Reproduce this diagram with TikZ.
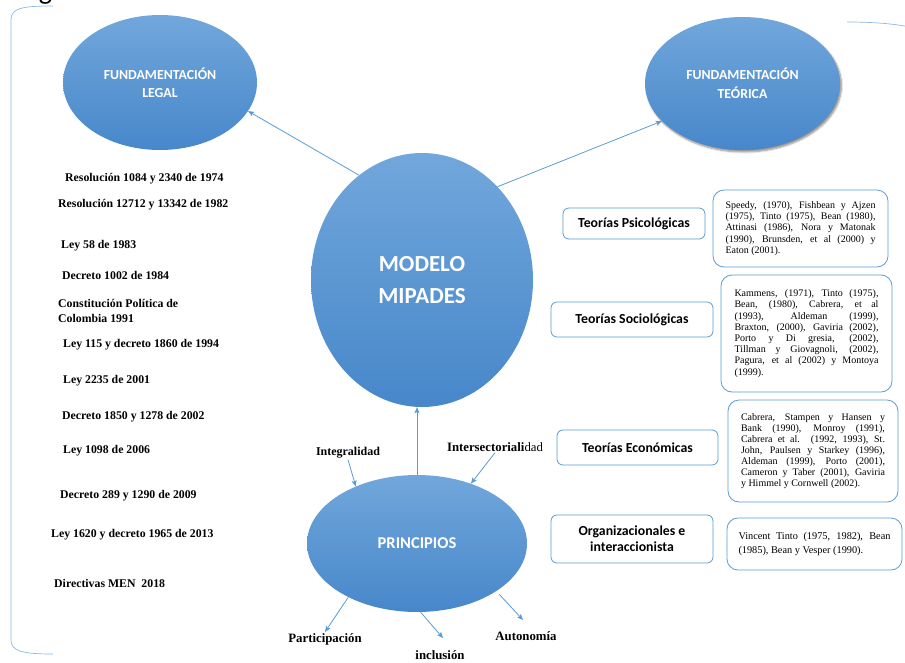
\documentclass[tikz,border=0pt]{standalone}
\usepackage{fontspec}
\setmainfont{Liberation Serif}
\newfontfamily\calibri{Carlito}
\usetikzlibrary{arrows.meta,shapes.geometric,shadows.blur}

\definecolor{accent}{HTML}{5B9BD5}
\definecolor{bubbletop}{HTML}{71A7DB}
\definecolor{bubblebot}{HTML}{4787CA}
\definecolor{bracketblue}{HTML}{8DB8E2}

\setlength{\parindent}{0pt}
\tolerance=10000

\begin{document}
\begin{tikzpicture}[x=1pt,y=-1pt,
  bubble/.style={ellipse, inner sep=0pt, draw=none,
    top color=bubbletop, bottom color=bubblebot,
    text=white, font=\calibri\bfseries, align=center},
  link/.style={draw=accent, line width=0.8pt,
    -{Stealth[length=6pt,width=5pt,inset=1.2pt]}},
  norma/.style={anchor=west, inner sep=0pt, align=left,
    font=\bfseries\fontsize{11.8}{15}\selectfont},
  tagbox/.style={draw=accent, line width=0.8pt, rounded corners=6pt,
    fill=white, inner sep=0pt, align=center,
    font=\calibri\bfseries\fontsize{13.8}{16}\selectfont},
  refbox/.style={draw=accent, line width=0.8pt, rounded corners=11pt,
    fill=white, inner sep=0pt, align=justify},
  principle/.style={inner sep=1pt, font=\bfseries\fontsize{12.8}{14}\selectfont},
  bracket/.style={draw=bracketblue, line width=0.7pt}
]
\useasboundingbox (0,0) rectangle (905,662);

% caption letter cut by the page edge
\node[anchor=base, inner sep=0pt, font=\calibri\fontsize{28}{30}\selectfont] (capg) at (45.5,-0.5) {g};

% side brackets
\draw[bracket] (53,6) .. controls (22,6) and (11,8) .. (11,20) -- (11,640)
  .. controls (11,651) and (22,654) .. (53,654);
\draw[bracket] (847,22) .. controls (875,22) and (895,24) .. (910,27);

% main ellipses
\node[bubble, minimum width=194pt, minimum height=135pt,
  font=\calibri\bfseries\fontsize{13.8}{17.5}\selectfont] (legal) at (160,82.5)
  {FUNDAMENTACIÓN\\LEGAL};
\node[bubble, minimum width=195pt, minimum height=133pt,
  blur shadow={shadow xshift=1.5pt, shadow yshift=-2pt, shadow blur steps=6, shadow opacity=45},
  font=\calibri\bfseries\fontsize{13.8}{19}\selectfont] (teorica) at (742.5,83.5)
  {FUNDAMENTACIÓN\\TEÓRICA};
\node[bubble, minimum width=222pt, minimum height=254pt,
  font=\calibri\bfseries\fontsize{23}{32}\selectfont] (modelo) at (422,280)
  {MODELO\\MIPADES};
\node[bubble, minimum width=220pt, minimum height=137pt,
  font=\calibri\bfseries\fontsize{16.5}{19}\selectfont] (principios) at (417,543.5)
  {PRINCIPIOS};

% links from the model
\draw[link] (modelo.121) -- (legal.-18);
\draw[link] (modelo.51) -- (teorica.205);
\draw[link] (principios.north) -- (principios.north |- modelo.south);

% legal framework
\node[norma] (n1) at (65,179) {Resolución 1084 y 2340 de 1974};
\node[norma] (n2) at (58,205) {Resolución 12712 y 13342 de 1982};
\node[norma] (n3) at (61,246) {Ley 58 de 1983};
\node[norma] (n4) at (62,275) {Decreto 1002 de 1984};
\node[norma] (n5) at (58,311) {Constitución Política de\\Colombia 1991};
\node[norma] (n6) at (63,345) {Ley 115 y decreto 1860 de 1994};
\node[norma] (n7) at (63,381) {Ley 2235 de 2001};
\node[norma] (n8) at (62,417) {Decreto 1850 y 1278 de 2002};
\node[norma] (n9) at (63,451) {Ley 1098 de 2006};
\node[norma] (n10) at (60,496) {Decreto 289 y 1290 de 2009};
\node[norma] (n11) at (51,535) {Ley 1620 y decreto 1965 de 2013};
\node[norma] (n12) at (54,583) {Directivas MEN\ \ 2018};

% theory groups
\node[tagbox, minimum width=142pt, minimum height=31pt] (psico) at (634,223.5) {Teorías Psicológicas};
\node[tagbox, minimum width=162pt, minimum height=35pt] (socio) at (632,319.5) {Teorías Sociológicas};
\node[tagbox, minimum width=161pt, minimum height=35pt] (econ) at (637.5,447.5) {Teorías Económicas};
\node[tagbox, minimum width=162pt, minimum height=48pt] (organiz) at (632,539) {Organizacionales e\\interaccionista};

% authors per group
\node[refbox, minimum width=175pt, minimum height=77pt, text width=150pt,
  font=\fontsize{10}{11.4}\selectfont] (refpsico) at (800.5,228.5)
  {Speedy, (1970), Fishbean y Ajzen\linebreak
   (1975), Tinto (1975), Bean (1980),\linebreak
   Attinasi (1986), Nora y Matonak\linebreak
   (1990), Brunsden, et al (2000) y\linebreak
   Eaton (2001).};
\node[refbox, minimum width=171pt, minimum height=117pt, text width=144pt,
  font=\fontsize{10}{11.2}\selectfont] (refsocio) at (806.5,333.5)
  {Kammens, (1971), Tinto (1975),\linebreak
   Bean, (1980), Cabrera, et al\linebreak
   (1993), Aldeman (1999),\linebreak
   Braxton, (2000), Gaviria (2002),\linebreak
   Porto y Di gresia, (2002),\linebreak
   Tillman y Giovagnoli, (2002),\linebreak
   Pagura, et al (2002) y Montoya\linebreak
   (1999).};
\node[refbox, minimum width=170pt, minimum height=102pt, text width=144pt,
  font=\fontsize{10}{11}\selectfont] (refecon) at (813,451)
  {Cabrera, Stampen y Hansen y\linebreak
   Bank (1990), Monroy (1991),\linebreak
   Cabrera et al. (1992, 1993), St.\linebreak
   John, Paulsen y Starkey (1996),\linebreak
   Aldeman (1999), Porto (2001),\linebreak
   Cameron y Taber (2001), Gaviria\linebreak
   y Himmel y Cornwell (2002).};
\node[refbox, minimum width=175pt, minimum height=52pt, text width=152pt,
  font=\fontsize{10.3}{14}\selectfont] (reforg) at (814.5,544)
  {Vincent Tinto (1975, 1982), Bean\linebreak
   (1985), Bean y Vesper (1990).};

% principles
\node[inner sep=1pt, font=\bfseries\fontsize{12}{14}\selectfont] (integ) at (348,453) {Integralidad};
\node[inner sep=1pt, font=\fontsize{12.8}{14}\selectfont] (intersec) at (495,447)
  {\textbf{Intersectoriali}dad};
\node[principle] (partic) at (325,639) {Participación};
\node[principle] (inclu) at (440,655) {inclusión};
\node[principle] (auto) at (526,636) {Autonomía};

\coordinate (inclTip) at (443,638);
\coordinate (autoTip) at (523,620);

\draw[link] (integ.south) -- (principios.137);
\draw[link] (intersec.south) -- (principios.48);
\draw[link] (principios.218) -- (partic.north);
\draw[link] (principios.-87) -- (inclTip);
\draw[link, shorten <=4pt] (principios.-31) -- (autoTip);
\end{tikzpicture}
\end{document}
